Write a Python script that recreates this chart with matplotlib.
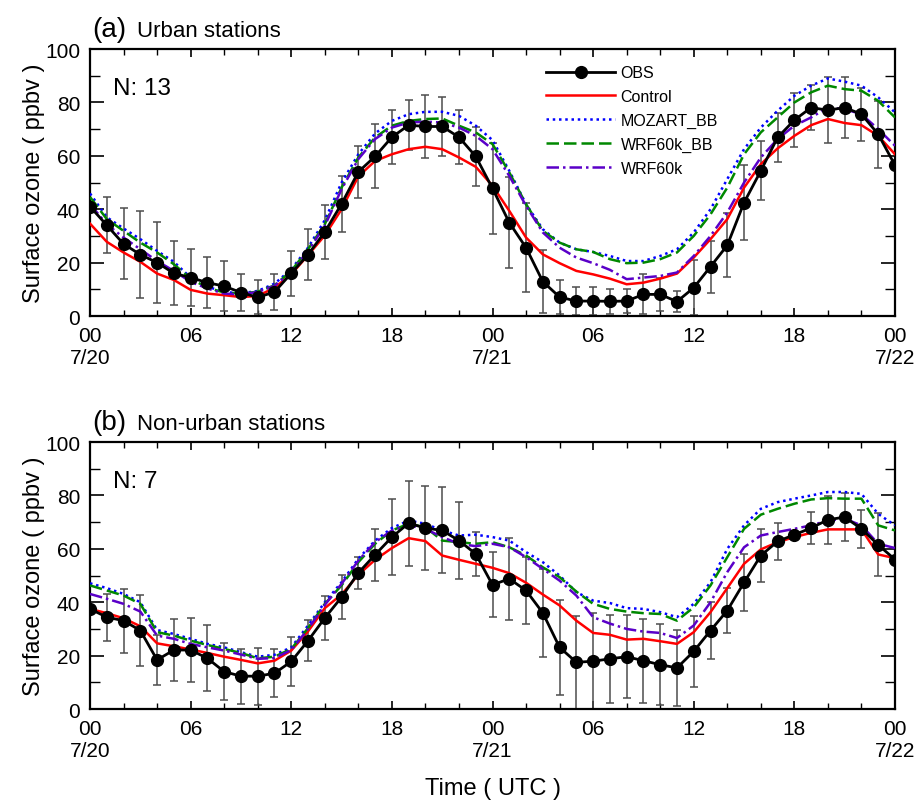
import numpy as np
import matplotlib.pyplot as plt
from matplotlib.ticker import MultipleLocator

plt.rcParams['font.family'] = ['Liberation Sans', 'DejaVu Sans']

hours = np.arange(49)
tick_pos = [0, 6, 12, 18, 24, 30, 36, 42, 48]
tick_lab = ['00\n7/20', '06', '12', '18', '00\n7/21', '06', '12', '18', '00\n7/22']

# (a) urban stations
obs_a = [41, 34, 27, 23, 20, 16, 14.4, 12.5, 11.2, 8.8, 7, 9, 16, 23, 31.5, 42, 54, 59.8, 67, 71.5,
         71, 71, 67, 59.8, 47.8, 35, 25.6, 12.9, 7.1, 5.6, 5.6, 5.5, 5.6, 8.1, 8.1, 5.4, 10.6, 18.5,
         26.5, 42.5, 54.4, 66.9, 73.4, 78.1, 77.1, 78.1, 75.6, 68.1, 56.5]
err_a = [10, 10.5, 13.3, 16.4, 15.3, 12, 10.6, 9.5, 9.3, 6.9, 6.4, 6.8, 8.5, 9.6, 10.1, 10.5, 9.7, 12,
         10.2, 9.4, 11.7, 11, 10, 11, 17, 17, 16.7, 11.8, 6.4, 5.3, 5.4, 4.6, 4.6, 7.5, 6.1, 4, 10.3,
         9.7, 12, 14, 11.1, 9.1, 10, 8.3, 12.3, 11.5, 10, 12.6, 12]
ctrl_a = [34.6, 27.8, 23.8, 20.3, 15.9, 13.5, 9.8, 8.4, 7.8, 7.1, 7.5, 10.6, 15.6, 22.8, 30.2, 40, 52.3,
          58.1, 60.6, 62.5, 63.4, 62.5, 59.4, 55.9, 48.8, 39.4, 29.4, 23.1, 19.8, 16.9, 15.6, 14, 11.9,
          12.5, 14, 15.9, 21.9, 28.8, 36.3, 48.1, 56.9, 62.8, 67.5, 71.5, 73.8, 72.3, 71.5, 67.5, 60.6]
mozart_a = [45.9, 37, 32.8, 28.8, 24.4, 20.3, 14.4, 11, 9, 8.5, 9.4, 12.1, 17.5, 25.6, 35.9, 50, 60.6,
            68.4, 73.1, 75.6, 76.5, 76.5, 75, 71.3, 65.9, 54.4, 41.9, 32.5, 27.5, 25, 24, 22.5, 20.6,
            20.6, 22.5, 25, 31.3, 40, 51.3, 62.5, 70.6, 76.9, 82.5, 86.3, 89, 87.8, 86.3, 81.9, 76.3]
wrfbb_a = [44.6, 36.3, 31.9, 27.5, 23.8, 19.4, 14, 10.6, 8.8, 8.4, 9.1, 11.5, 16.9, 25, 34.4, 48.1, 59.4,
           66.9, 71.3, 73.1, 73.8, 74, 71.3, 68.8, 64.4, 53.8, 41.9, 31.9, 27.5, 25, 24, 21.3, 19.8,
           20, 21.3, 23.8, 30, 38.1, 48.1, 60.6, 68.8, 74.4, 80, 83.8, 86.3, 85, 84.4, 80.6, 74.4]
wrf_a = [41.9, 34.4, 29.4, 25, 20.6, 16.9, 12.8, 10.3, 8.4, 8.1, 9, 11.3, 16.6, 24.4, 33.8, 47.5, 58.8,
         66.3, 70.6, 72.5, 72.8, 72.5, 70.6, 67.5, 62.5, 52.5, 41.3, 31.3, 25.6, 21.9, 19.8, 17.3, 13.8,
         14.4, 15, 16.3, 22.5, 30, 38.8, 50, 59.4, 66.3, 71.3, 74.4, 78.1, 77.5, 75.6, 70, 63.8]

# (b) non-urban stations
obs_b = [37.5, 34.4, 33.1, 29.4, 18.4, 22.1, 22.1, 19, 14, 12.3, 12.3, 13.4, 17.8, 25.6, 34.1, 41.9, 51,
         57.8, 64.4, 69.6, 67.8, 66.9, 63.1, 58.1, 46.5, 48.8, 44.4, 36, 23.1, 17.5, 17.9, 18.8, 19.6,
         18.1, 16.6, 15.4, 21.6, 29.4, 36.9, 47.4, 57.5, 62.8, 65.3, 67.8, 70.9, 71.9, 67.5, 61.5, 56]
err_b = [9, 8.8, 12, 13.3, 9.4, 11.5, 12, 12.3, 10.8, 10.3, 10.7, 9, 9, 7.8, 8.3, 8.2, 6.1, 9.8, 14.1, 16,
         15.8, 16.1, 14.4, 8.1, 12.2, 15.4, 12.4, 16.4, 17.9, 17.5, 18, 16.5, 15.5, 15.8, 15.2, 14.3,
         13.4, 10.6, 8.4, 10.8, 10.1, 6.8, 1.5, 6, 9, 8.9, 7.2, 11.8, 10]
ctrl_b = [37.5, 35.9, 34, 31, 24.6, 23.5, 22.3, 21, 19.6, 18.4, 17.1, 18.1, 21.9, 29.1, 37.8, 42.9, 50.3,
          55.9, 60.3, 64, 62.9, 57.5, 55.9, 54.4, 52.9, 50.9, 47.3, 42.9, 38.8, 33.1, 28.5, 27.8, 26,
          26.3, 25.4, 24.4, 28.8, 36.3, 45.3, 54.4, 59.8, 62.5, 64.4, 66, 67.3, 67.3, 67.3, 57.9, 56.5]
mozart_b = [47.1, 45.3, 43.1, 40, 29.6, 28.1, 26.3, 24.4, 23.1, 21.3, 19.6, 20.3, 23.1, 31.3, 40, 47.5,
            56.3, 63.1, 67.8, 70.6, 69.4, 66.9, 65, 65.3, 64.4, 63.1, 58.8, 55, 50, 43.8, 40.6, 39.7,
            37.8, 37.5, 36.3, 34.4, 39.4, 47.5, 60, 68.8, 75, 77.5, 78.8, 80, 81.3, 81.3, 80.6, 73.1, 68.8]
wrfbb_b = [46.3, 44.4, 42.5, 39.4, 28.8, 27.5, 25.6, 24, 22.5, 21, 19, 19.6, 22.5, 30.3, 39.4, 46.3, 55,
           61.9, 66.9, 69.4, 68.1, 63.1, 62.5, 61.9, 62.5, 60.6, 57.5, 53.1, 49.4, 44, 39.4, 37.5, 36.5,
           35.9, 35.6, 33.1, 38.1, 46.3, 56.9, 67.5, 72.8, 75, 76.9, 78.5, 79, 78.8, 78.8, 68.8, 66.9]
wrf_b = [43.1, 41.3, 39.4, 36.5, 27.5, 26.3, 24.4, 23.1, 21.9, 20.4, 18.8, 19.1, 22.1, 30, 39, 46.9, 55.6,
         62.5, 66.9, 68.8, 67.5, 64.4, 61.9, 61, 61.9, 60.6, 56.9, 52.5, 48.1, 42.5, 34.4, 32, 30, 29,
         28.5, 26.6, 31.3, 40, 51.3, 60.6, 65, 66.3, 67.5, 68.8, 70.6, 71.3, 68.8, 61.9, 60.3]


def draw_panel(ax, obs, err, ctrl, mozart, wrfbb, wrf, tag, title, nsta):
    ax.errorbar(hours[1:-1], obs[1:-1], yerr=err[1:-1], fmt='none', ecolor='0.3',
                elinewidth=1.1, capsize=3, capthick=1.1, zorder=2)
    ax.plot(hours, ctrl, color='#ff0000', lw=1.8, label='Control', zorder=3)
    ax.plot(hours, mozart, color='#0000ff', lw=1.8, ls=(0, (1, 1.5)), label='MOZART_BB', zorder=3)
    ax.plot(hours, wrfbb, color='#008800', lw=1.8, ls=(0, (5, 2)), label='WRF60k_BB', zorder=3)
    ax.plot(hours, wrf, color='#5a00c8', lw=1.8, ls=(0, (5, 1.6, 1, 1.6)), label='WRF60k', zorder=3)
    ax.plot(hours, obs, color='black', lw=2.0, marker='o', ms=8.5, label='OBS', zorder=4)

    ax.set_xlim(0, 48)
    ax.set_ylim(0, 100)
    ax.set_xticks(tick_pos)
    ax.set_xticklabels(tick_lab)
    ax.xaxis.set_minor_locator(MultipleLocator(2))
    ax.set_yticks([0, 20, 40, 60, 80, 100])
    ax.yaxis.set_minor_locator(MultipleLocator(10))
    ax.tick_params(which='both', direction='in', top=True, right=True, labelsize=15)
    ax.tick_params(axis='x', which='major', length=6, width=1.2, pad=7)
    ax.tick_params(axis='x', which='minor', length=4, width=1.0)
    ax.tick_params(axis='y', which='major', length=10, width=1.2, pad=7)
    ax.tick_params(axis='y', which='minor', length=7, width=1.0)
    for s in ax.spines.values():
        s.set_linewidth(1.6)
    ax.set_ylabel('Surface ozone ( ppbv )', fontsize=17)
    ax.yaxis.set_label_coords(-0.056, 0.5)
    ax.text(0.003, 1.049, tag, transform=ax.transAxes, fontsize=20, va='baseline', ha='left')
    ax.text(0.0585, 1.049, title, transform=ax.transAxes, fontsize=16, va='baseline', ha='left')
    ax.text(0.0286, 0.831, 'N: ' + str(nsta), transform=ax.transAxes, fontsize=17.5, va='baseline')


fig = plt.figure(figsize=(9.14, 8.04), dpi=100)
ax1 = fig.add_axes([0.0985, 0.6057, 0.8807, 0.332])
ax2 = fig.add_axes([0.0985, 0.1169, 0.8807, 0.332])

draw_panel(ax1, obs_a, err_a, ctrl_a, mozart_a, wrfbb_a, wrf_a, '(a)', 'Urban stations', 13)
draw_panel(ax2, obs_b, err_b, ctrl_b, mozart_b, wrfbb_b, wrf_b, '(b)', 'Non-urban stations', 7)
ax2.set_xlabel('Time ( UTC )', fontsize=17, va='top')
ax2.xaxis.set_label_coords(0.5, -0.253)

h, l = ax1.get_legend_handles_labels()
order = [4, 0, 1, 2, 3]
ax1.legend([h[i] for i in order], [l[i] for i in order], loc='upper left',
           bbox_to_anchor=(0.567, 0.94), frameon=False, fontsize=11.5, handlelength=4.3,
           handletextpad=0.35, labelspacing=0.55, borderpad=0, borderaxespad=0, numpoints=1)

fig.savefig('out.png', dpi=100)
